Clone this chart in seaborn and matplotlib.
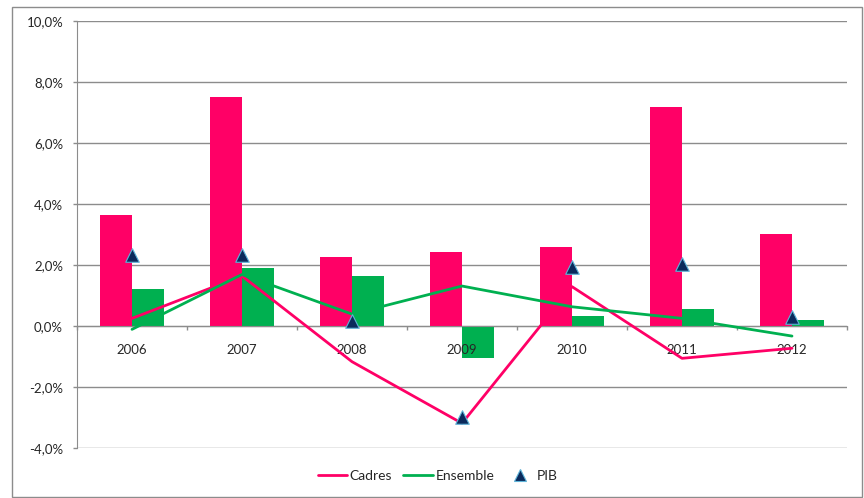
import numpy as np
import pandas as pd
import matplotlib
matplotlib.use("Agg")
import matplotlib.pyplot as plt
from matplotlib.lines import Line2D
from matplotlib.patches import Rectangle
from matplotlib.ticker import FuncFormatter, FixedLocator
import seaborn as sns

# Data (in %)
years = ["2006", "2007", "2008", "2009", "2010", "2011", "2012"]
cadres_bar = [3.64, 7.52, 2.25, 2.43, 2.60, 7.19, 3.02]
ensemble_bar = [1.21, 1.90, 1.64, -1.06, 0.32, 0.56, 0.19]
cadres_line = [0.25, 1.64, -1.17, -3.19, 1.29, -1.06, -0.73]
ensemble_line = [-0.11, 1.69, 0.39, 1.31, 0.63, 0.25, -0.33]
pib = [2.34, 2.34, 0.17, -2.97, 1.94, 2.04, 0.30]
y_ticks = [-4, -2, 0, 2, 4, 6, 8, 10]

PINK = "#FF0066"
GREEN = "#00B050"
NAVY = "#0B2A5C"
GRID = "#8C8C8C"

sns.set_style("white")
plt.rcParams["font.family"] = ["Lato", "DejaVu Sans"]

fig = plt.figure(figsize=(8.64, 4.98), dpi=100)
ax = fig.add_axes([77 / 864, 1 - 448 / 498, 770 / 864, 427 / 498])

# gridlines under the bars
for t in y_ticks:
    ax.axhline(t, color=GRID, linewidth=1, zorder=0.5)

# bars
bars_df = pd.DataFrame({
    "Année": years * 2,
    "Valeur": cadres_bar + ensemble_bar,
    "Série": ["Cadres"] * len(years) + ["Ensemble"] * len(years),
})
sns.barplot(data=bars_df, x="Année", y="Valeur", hue="Série",
            palette=[PINK, GREEN], width=0.58, gap=0, saturation=1,
            legend=False, ax=ax, zorder=2, linewidth=0)

# lines + PIB markers
xpos = np.arange(len(years))
sns.lineplot(x=xpos, y=cadres_line, color=PINK, linewidth=2.0, ax=ax, zorder=3)
sns.lineplot(x=xpos, y=ensemble_line, color=GREEN, linewidth=2.0, ax=ax, zorder=3)
sns.scatterplot(x=xpos, y=pib, marker="^", s=95, color=NAVY,
                edgecolor="#5FB4D9", linewidth=0.8, ax=ax, zorder=4)

ax.set_xlim(-0.5, len(years) - 0.5)
ax.set_ylim(-4, 10)
ax.set_xlabel("")
ax.set_ylabel("")
ax.set_axisbelow(False)  # year labels drawn over the bars

# y axis
ax.yaxis.set_major_locator(FixedLocator(y_ticks))
ax.yaxis.set_major_formatter(FuncFormatter(lambda v, p: f"{v:.1f}%".replace(".", ",")))
ax.tick_params(axis="y", length=3, width=1, color=GRID, pad=7, labelsize=9.5, left=True)

# x axis at zero, ticks between categories, labels at centres
ax.spines["bottom"].set_position(("data", 0))
ax.spines["bottom"].set_color(GRID)
ax.spines["left"].set_color(GRID)
ax.spines["top"].set_visible(False)
ax.spines["right"].set_visible(False)
ax.xaxis.set_major_locator(FixedLocator(np.arange(len(years) + 1) - 0.5))
ax.xaxis.set_major_formatter(FuncFormatter(lambda v, p: ""))
ax.set_xticks(xpos, labels=years, minor=True)
ax.tick_params(axis="x", which="major", length=3, width=1, color=GRID, bottom=True)
ax.tick_params(axis="x", which="minor", length=0, pad=13, labelsize=9.5)

# legend
handles = [
    Line2D([], [], color=PINK, linewidth=2.0),
    Line2D([], [], color=GREEN, linewidth=2.0),
    Line2D([], [], color=NAVY, marker="^", linestyle="none", markersize=8,
           markeredgecolor="#5FB4D9", markeredgewidth=0.8),
]
fig.legend(handles, ["Cadres", "Ensemble", "PIB"], loc="center",
           bbox_to_anchor=(438 / 864, 1 - 476 / 498), ncol=3, frameon=False,
           fontsize=10, handlelength=2.1, columnspacing=0.8, handletextpad=0.2)

# outer chart border
fig.patches.append(Rectangle((12 / 864, 1 / 498), 850 / 864, 490 / 498,
                             transform=fig.transFigure, fill=False,
                             edgecolor=GRID, linewidth=1))

fig.savefig("out.png", dpi=100)
